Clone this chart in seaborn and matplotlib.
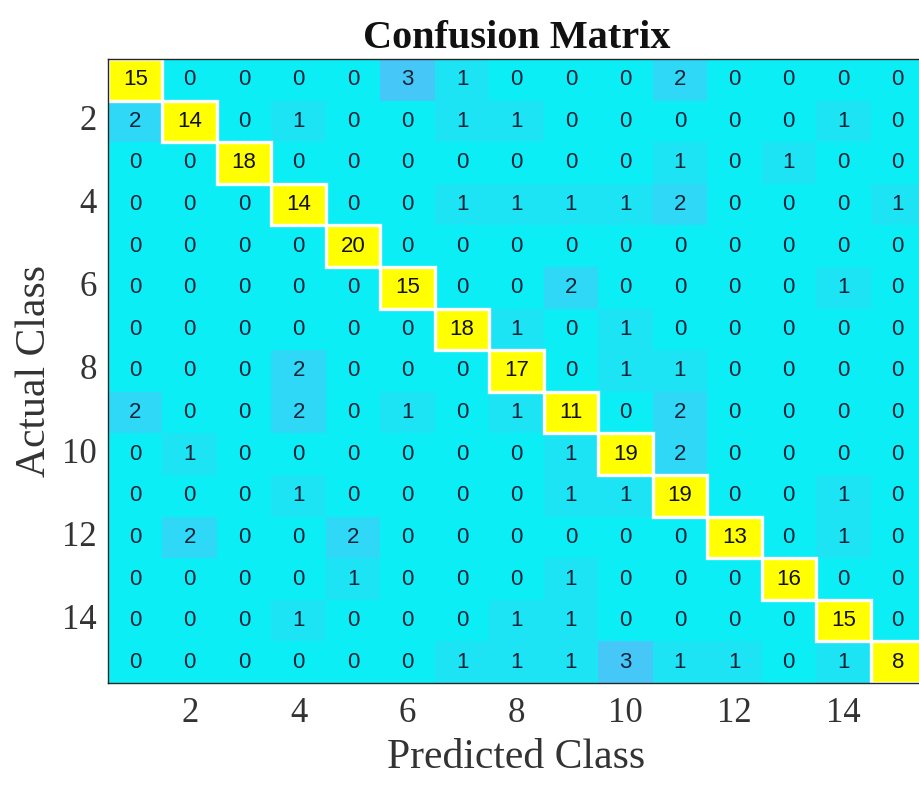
import numpy as np
import pandas as pd
import seaborn as sns
import matplotlib
matplotlib.use("Agg")
import matplotlib.pyplot as plt
from matplotlib.colors import LinearSegmentedColormap, ListedColormap
from matplotlib.patches import Rectangle

# Class labels (1..15) and counts: rows = actual class, columns = predicted class
classes = list(range(1, 16))
row_01 = [15, 0, 0, 0, 0, 3, 1, 0, 0, 0, 2, 0, 0, 0, 0]
row_02 = [2, 14, 0, 1, 0, 0, 1, 1, 0, 0, 0, 0, 0, 1, 0]
row_03 = [0, 0, 18, 0, 0, 0, 0, 0, 0, 0, 1, 0, 1, 0, 0]
row_04 = [0, 0, 0, 14, 0, 0, 1, 1, 1, 1, 2, 0, 0, 0, 1]
row_05 = [0, 0, 0, 0, 20, 0, 0, 0, 0, 0, 0, 0, 0, 0, 0]
row_06 = [0, 0, 0, 0, 0, 15, 0, 0, 2, 0, 0, 0, 0, 1, 0]
row_07 = [0, 0, 0, 0, 0, 0, 18, 1, 0, 1, 0, 0, 0, 0, 0]
row_08 = [0, 0, 0, 2, 0, 0, 0, 17, 0, 1, 1, 0, 0, 0, 0]
row_09 = [2, 0, 0, 2, 0, 1, 0, 1, 11, 0, 2, 0, 0, 0, 0]
row_10 = [0, 1, 0, 0, 0, 0, 0, 0, 1, 19, 2, 0, 0, 0, 0]
row_11 = [0, 0, 0, 1, 0, 0, 0, 0, 1, 1, 19, 0, 0, 1, 0]
row_12 = [0, 2, 0, 0, 2, 0, 0, 0, 0, 0, 0, 13, 0, 1, 0]
row_13 = [0, 0, 0, 0, 1, 0, 0, 0, 1, 0, 0, 0, 16, 0, 0]
row_14 = [0, 0, 0, 1, 0, 0, 0, 1, 1, 0, 0, 0, 0, 15, 0]
row_15 = [0, 0, 0, 0, 0, 0, 1, 1, 1, 3, 1, 1, 0, 1, 8]
tick_labels = ["2", "4", "6", "8", "10", "12", "14"]

rows = [row_01, row_02, row_03, row_04, row_05, row_06, row_07, row_08,
        row_09, row_10, row_11, row_12, row_13, row_14, row_15]
cm = pd.DataFrame(rows, index=classes, columns=classes)

sns.set_theme(style="white")
plt.rcParams["font.family"] = ["Liberation Serif", "DejaVu Serif"]

fig = plt.figure(figsize=(9.19, 7.85), dpi=100)
ax = fig.add_axes([0.1175, 0.1299, 0.889, 0.795])

n = len(classes)
diag_mask = ~np.eye(n, dtype=bool)
off_mask = np.eye(n, dtype=bool)

off_cmap = LinearSegmentedColormap.from_list(
    "cyan_blue", ["#0CEEF5", "#1DE4F5", "#2ED8F6", "#45C8F7"])
num_kws = {"fontsize": 16, "color": "#102238", "family": "Liberation Sans"}

# Misclassifications: cyan shading that deepens with the count
sns.heatmap(cm, mask=off_mask, cmap=off_cmap, vmin=0, vmax=3, cbar=False,
            annot=True, fmt="d", annot_kws=num_kws, ax=ax)
# Correct predictions along the diagonal: yellow cells
sns.heatmap(cm, mask=diag_mask, cmap=ListedColormap(["#FFFF00"]), cbar=False,
            annot=True, fmt="d", annot_kws={**num_kws, "color": "#111111"},
            ax=ax)
# White outline around each diagonal cell
for i in range(n):
    ax.add_patch(Rectangle((i, i), 1, 1, fill=False, edgecolor="white",
                           linewidth=2.4, zorder=3))

pos = [int(t) - 0.5 for t in tick_labels]
ax.set_xticks(pos)
ax.set_xticklabels(tick_labels, rotation=0)
ax.set_yticks(pos)
ax.set_yticklabels(tick_labels, rotation=0)
ax.tick_params(axis="both", which="both", direction="in", length=5, width=1,
               color="#262626", labelsize=25, labelcolor="#333333",
               top=True, right=True, left=True, bottom=True)
ax.tick_params(axis="x", pad=10)
ax.tick_params(axis="y", pad=8)

for side in ["top", "left", "bottom", "right"]:
    ax.spines[side].set_visible(True)
    ax.spines[side].set_color("#262626")
    ax.spines[side].set_linewidth(1.0)
    ax.spines[side].set_zorder(4)

ax.set_xlabel("Predicted Class", fontsize=30, color="#333333", labelpad=6)
ax.set_ylabel("Actual Class", fontsize=30, color="#333333", labelpad=6)
ax.set_title("Confusion Matrix", fontsize=29, fontweight="bold",
             color="#111111", pad=8)

fig.savefig("out.png", dpi=100)
